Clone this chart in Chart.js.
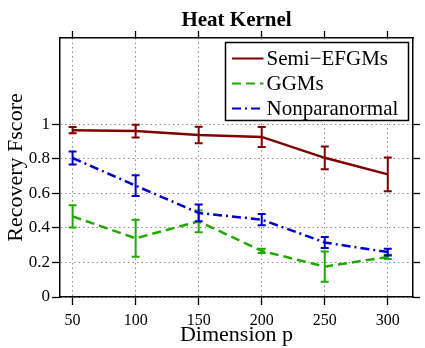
<!DOCTYPE html>
<html><head><meta charset="utf-8">
<script src="https://cdn.jsdelivr.net/npm/chart.js@4"></script>
<style>html,body{margin:0;padding:0;background:#fff}#wrap{width:425px;height:348px}</style>
</head><body><div id="wrap"><canvas id="c" width="425" height="348"></canvas></div>
<script>
const dims = [50, 100, 150, 200, 250, 300];
const seriesNames = ['Semi\u2212EFGMs', 'GGMs', 'Nonparanormal'];
const semiEFGMs = [0.966, 0.961, 0.938, 0.927, 0.806, 0.71];
const semiEFGMsErr = [0.018, 0.037, 0.048, 0.058, 0.066, 0.098];
const ggms = [0.467, 0.34, 0.438, 0.267, 0.176, 0.232];
const ggmsErr = [0.065, 0.107, 0.063, 0.012, 0.088, 0.012];
const nonpara = [0.805, 0.645, 0.487, 0.448, 0.316, 0.26];
const nonparaErr = [0.038, 0.06, 0.048, 0.033, 0.032, 0.02];
const xTicks = [50, 100, 150, 200, 250, 300];
const yTicks = [0, 0.2, 0.4, 0.6, 0.8, 1];
const yTickLabels = ['0', '0.2', '0.4', '0.6', '0.8', '1'];

const serif = "'Liberation Serif', 'Times New Roman', serif";
const colors = ['#800000', '#1faa00', '#0000cc'];
const dashes = [[], [9, 5], [9, 4, 2, 4]];
const mk = vals => dims.map((d, i) => ({x: d, y: vals[i]}));

const errorBarPlugin = {
  id: 'errbars',
  afterDatasetDraw(chart, args) {
    const ds = chart.data.datasets[args.index];
    if (!ds.errors) return;
    const xs = chart.scales.x, ys = chart.scales.y, ctx = chart.ctx;
    ctx.save();
    ctx.strokeStyle = ds.borderColor;
    ctx.lineWidth = 2;
    ctx.setLineDash([]);
    ds.data.forEach((p, i) => {
      const e = ds.errors[i];
      const x = xs.getPixelForValue(p.x);
      const y1 = ys.getPixelForValue(p.y + e);
      const y2 = ys.getPixelForValue(p.y - e);
      ctx.beginPath();
      ctx.moveTo(x, y1); ctx.lineTo(x, y2);
      ctx.moveTo(x - 4, y1); ctx.lineTo(x + 4, y1);
      ctx.moveTo(x - 4, y2); ctx.lineTo(x + 4, y2);
      ctx.stroke();
    });
    ctx.restore();
  }
};

const legendPlugin = {
  id: 'customLegend',
  afterDraw(chart) {
    const ctx = chart.ctx, ca = chart.chartArea;
    ctx.save();
    const bx = ca.right - 187.5, by = ca.top + 4.5, bw = 183, bh = 78;
    ctx.fillStyle = '#fff';
    ctx.fillRect(bx, by, bw, bh);
    ctx.lineWidth = 1.5; ctx.strokeStyle = '#000';
    ctx.strokeRect(bx, by, bw, bh);
    ctx.font = '21px ' + serif;
    ctx.textBaseline = 'alphabetic';
    chart.data.datasets.forEach((ds, i) => {
      const base = by + 22.5 + i * 25;
      ctx.strokeStyle = ds.borderColor;
      ctx.lineWidth = 2;
      ctx.setLineDash(ds.borderDash || []);
      ctx.beginPath();
      ctx.moveTo(bx + 6.5, base - 6.5); ctx.lineTo(bx + 38, base - 6.5);
      ctx.stroke();
      ctx.setLineDash([]);
      ctx.fillStyle = '#000';
      ctx.fillText(ds.label, bx + 41, base);
    });
    ctx.restore();
  }
};

const gridCommon = {color: '#8c8c8c', lineWidth: 1, tickColor: '#000', tickWidth: 1.3, tickBorderDash: []};
const borderCommon = {color: '#000', width: 1.5, dash: [1.5, 3]};

new Chart(document.getElementById('c'), {
  type: 'line',
  data: {
    datasets: [
      {label: seriesNames[0], data: mk(semiEFGMs), errors: semiEFGMsErr, borderColor: colors[0], borderDash: dashes[0], borderWidth: 2.5, pointRadius: 0, fill: false, order: 3, xAxisID: 'x', yAxisID: 'y'},
      {label: seriesNames[1], data: mk(ggms), errors: ggmsErr, borderColor: colors[1], borderDash: dashes[1], borderWidth: 2.5, pointRadius: 0, fill: false, order: 2, xAxisID: 'x', yAxisID: 'y'},
      {label: seriesNames[2], data: mk(nonpara), errors: nonparaErr, borderColor: colors[2], borderDash: dashes[2], borderWidth: 2.5, pointRadius: 0, fill: false, order: 1, xAxisID: 'x', yAxisID: 'y'}
    ]
  },
  options: {
    responsive: false, animation: false, devicePixelRatio: 1,
    layout: {padding: 0},
    plugins: {legend: {display: false}, title: {display: false}, tooltip: {enabled: false}},
    scales: {
      x: {
        type: 'linear', position: 'bottom', min: 40, max: 320,
        afterBuildTicks: s => { s.ticks = xTicks.map(v => ({value: v})); },
        afterFit: s => { s.height = 51; },
        grid: Object.assign({}, gridCommon, {drawOnChartArea: true, tickLength: 8}),
        border: borderCommon,
        ticks: {font: {family: serif, size: 16}, color: '#000', padding: 6, maxRotation: 0, autoSkip: false, callback: v => String(v)},
        title: {display: true, text: 'Dimension p', font: {family: serif, size: 22}, color: '#000', padding: {top: 0, bottom: 0}}
      },
      x2: {
        type: 'linear', axis: 'x', position: 'top', min: 40, max: 320,
        afterBuildTicks: s => { s.ticks = xTicks.map(v => ({value: v})); },
        afterFit: s => { s.height = 38; },
        grid: Object.assign({}, gridCommon, {drawOnChartArea: false, tickLength: 7}),
        border: borderCommon,
        ticks: {display: false},
        title: {display: true, text: 'Heat Kernel', font: {family: serif, size: 21, weight: 'bold'}, color: '#000', padding: {top: 8, bottom: 0}}
      },
      y: {
        type: 'linear', position: 'left', min: 0, max: 1.5,
        afterBuildTicks: s => { s.ticks = yTicks.map(v => ({value: v})); },
        afterFit: s => { s.width = 60; },
        grid: Object.assign({}, gridCommon, {drawOnChartArea: true, tickLength: 8}),
        border: borderCommon,
        ticks: {font: {family: serif, size: 17}, color: '#000', padding: 2, callback: (v) => yTickLabels[yTicks.indexOf(v)] ?? String(v)},
        title: {display: true, text: 'Recovery Fscore', font: {family: serif, size: 22}, color: '#000', padding: {top: 3, bottom: 0}}
      },
      y2: {
        type: 'linear', axis: 'y', position: 'right', min: 0, max: 1.5,
        afterBuildTicks: s => { s.ticks = yTicks.map(v => ({value: v})); },
        afterFit: s => { s.width = 12; },
        grid: Object.assign({}, gridCommon, {drawOnChartArea: false, tickLength: 7}),
        border: borderCommon,
        ticks: {display: false}
      }
    }
  },
  plugins: [errorBarPlugin, legendPlugin]
});
</script>
</body></html>
